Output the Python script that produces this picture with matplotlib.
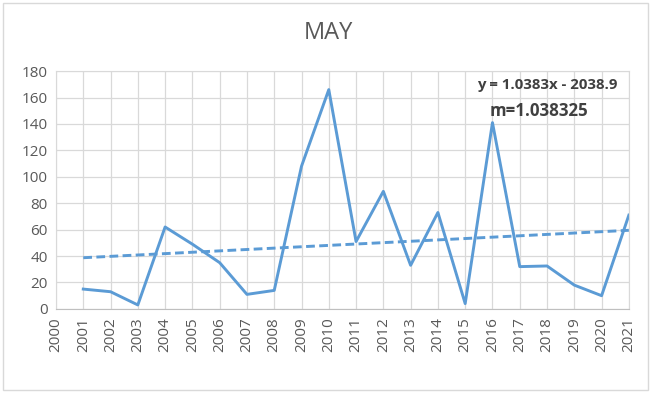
import matplotlib
matplotlib.use("Agg")
import matplotlib.pyplot as plt
import numpy as np

years = list(range(2001, 2022))
rain = [15, 13, 3, 62, 49, 35, 11, 14, 108, 166, 51, 89, 33, 73, 4, 141, 32, 32.5, 18, 10, 71]
slope, intercept = 1.0383, -2038.9
eq_text = "y = 1.0383x - 2038.9"
m_text = "m=1.038325"
xticks = list(range(2000, 2022))
yticks = list(range(0, 181, 20))

plt.rcParams['font.family'] = ['Open Sans', 'DejaVu Sans']
blue = '#5B9BD5'
grey_txt = '#595959'

fig = plt.figure(figsize=(6.51, 3.93), dpi=100)
fig.patches.append(plt.Rectangle((0.005, 0.008), 0.99, 0.984, transform=fig.transFigure,
                                 fill=False, edgecolor='#D9D9D9', lw=1))
ax = fig.add_axes([0.086, 0.214, 0.880, 0.605])

ax.plot(years, rain, color=blue, lw=2.1)
yr = np.array(years)
ax.plot(yr, slope * yr + intercept, color=blue, lw=2.1, ls=(0, (3, 1.5)))

ax.set_xlim(2000, 2021)
ax.set_ylim(0, 180)
ax.set_xticks(xticks)
ax.set_xticklabels([str(x) for x in xticks], rotation=90, fontsize=11, color=grey_txt)
ax.set_yticks(yticks)
ax.set_yticklabels([str(y) for y in yticks], fontsize=11, color=grey_txt)
ax.tick_params(length=0, pad=6)
ax.grid(True, color='#D9D9D9', lw=0.9)
ax.set_axisbelow(True)
for s in ['top', 'right', 'left']:
    ax.spines[s].set_color('#D9D9D9')
ax.spines['bottom'].set_color('#BFBFBF')

ax.text(2018.0, 169.5, eq_text, fontsize=10.8, fontweight='bold', color='#404040', ha='center', va='center')
ax.text(2017.7, 150, m_text, fontsize=12.2, fontweight='bold', color='#404040', ha='center', va='center')

fig.text(0.504, 0.915, "MAY", fontsize=17, color=grey_txt, ha='center', va='center')

fig.savefig("out.png", dpi=100)
